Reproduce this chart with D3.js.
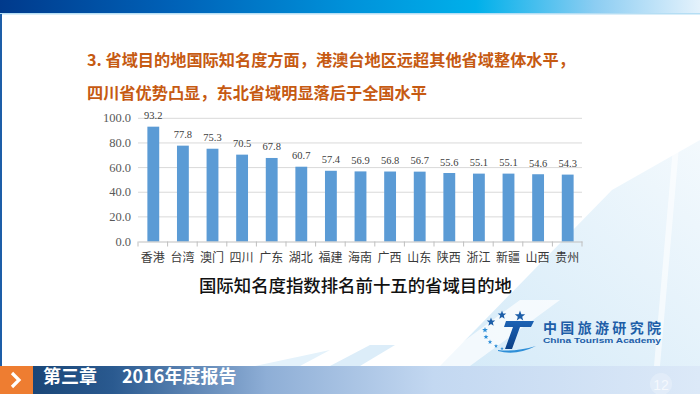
<!DOCTYPE html>
<html><head><meta charset="utf-8">
<script src="https://cdn.jsdelivr.net/npm/d3@7"></script>
<style>html,body{margin:0;padding:0;background:#fff;overflow:hidden}svg{display:block}</style>
</head><body>
<svg id="c" width="700" height="394"></svg>
<script>
const categories = ["香港","台湾","澳门","四川","广东","湖北","福建","海南","广西","山东","陕西","浙江","新疆","山西","贵州"];
const values = [93.2,77.8,75.3,70.5,67.8,60.7,57.4,56.9,56.8,56.7,55.6,55.1,55.1,54.6,54.3];
const yTicks = [0,20,40,60,80,100];
const titleLines = ["3. 省域目的地国际知名度方面，港澳台地区远超其他省域整体水平，","四川省优势凸显，东北省域明显落后于全国水平"];
const caption = "国际知名度指数排名前十五的省域目的地";
const footerText = ["第三章","2016年度报告"];
const pageNo = "12";

const svg = d3.select("#c");
const defs = svg.append("defs");
const cjk = "'Noto Sans CJK SC','Noto Sans',sans-serif";
const serif = "'Liberation Serif','DejaVu Serif',serif";

// background decoration
const bgG = defs.append("linearGradient").attr("id","bgg").attr("x1","0").attr("y1","1").attr("x2","1").attr("y2","0");
bgG.append("stop").attr("offset","0").attr("stop-color","#d4eaf8");
bgG.append("stop").attr("offset","1").attr("stop-color","#f3f9fd");
svg.append("path").attr("d","M612,190 L700,140 L700,366 L440,366 Z").attr("fill","url(#bgg)");
svg.append("path").attr("d","M520,300 L560,300 L470,366 L430,366 Z").attr("fill","#ffffff").attr("opacity",0.7);
svg.append("path").attr("d","M330,366 L360,366 L395,345 L370,345 Z").attr("fill","#dcedf9");
svg.append("path").attr("d","M255,366 L300,366 L330,350 Z").attr("fill","#e4f2fb");
svg.append("path").attr("d","M684,20 L690,20 L660,366 L654,366 Z").attr("fill","#ffffff").attr("opacity",0.6);

// top bar
const tg = defs.append("linearGradient").attr("id","tg");
[["0","#003a8c"],["0.25","#0062b8"],["0.5","#0092da"],["0.68","#00b0ea"],["0.85","#8ccdf2"],["1","#e4f2fc"]].forEach(s=>tg.append("stop").attr("offset",s[0]).attr("stop-color",s[1]));
svg.append("rect").attr("x",0).attr("y",0).attr("width",700).attr("height",13).attr("fill","url(#tg)");
svg.append("rect").attr("x",0).attr("y",13).attr("width",700).attr("height",1.5).attr("fill","#b5def4");
svg.append("rect").attr("x",0).attr("y",14).attr("width",2).attr("height",352).attr("fill","#1d5ea8");

// title
svg.append("g").selectAll("text").data(titleLines).join("text")
  .attr("x",87).attr("y",(d,i)=>66+i*33)
  .attr("font-family",cjk).attr("font-weight","bold").attr("font-size",16.2)
  .attr("fill","#c65a12").text(d=>d);

// chart
const x = d3.scaleBand().domain(categories).range([138,582]).padding(0);
const y = d3.scaleLinear().domain([0,100]).range([241.5,118.3]);
const g = svg.append("g");
g.selectAll("line.grid").data(yTicks.filter(t=>t>0)).join("line")
  .attr("x1",138).attr("x2",582).attr("y1",d=>y(d)).attr("y2",d=>y(d))
  .attr("stroke","#d9d9d9").attr("stroke-width",1);
g.selectAll("text.yl").data(yTicks).join("text")
  .attr("x",131).attr("y",d=>y(d)+4).attr("text-anchor","end")
  .attr("font-family",serif).attr("font-size",12.5).attr("fill","#595959")
  .text(d=>d3.format(".1f")(d));
const bw = x.bandwidth()*0.4;
g.selectAll("rect.bar").data(values).join("rect")
  .attr("x",(d,i)=>x(categories[i])+x.bandwidth()/2-bw/2+0.5)
  .attr("width",bw).attr("y",d=>y(d)).attr("height",d=>y(0)-y(d))
  .attr("fill","#5b9bd5");
g.selectAll("text.vl").data(values).join("text")
  .attr("x",(d,i)=>x(categories[i])+x.bandwidth()/2+0.5).attr("y",d=>y(d)-7.5)
  .attr("text-anchor","middle").attr("font-family",serif).attr("font-size",10.5).attr("fill","#404040")
  .text(d=>d3.format(".1f")(d));
const xAxis = d3.axisBottom(x).tickSize(0).tickFormat(d=>d);
const ax = g.append("g").attr("transform",`translate(0,${y(0)})`).call(xAxis);
ax.select(".domain").attr("stroke","#bfbfbf");
ax.selectAll(".tick text").attr("dy",0).attr("y",20.5).attr("font-family",cjk).attr("font-size",12).attr("fill","#3a3a3a");
const edges = categories.map(c=>x(c)).concat([x.range()[1]]);
ax.selectAll("line.edge").data(edges).join("line")
  .attr("x1",d=>d).attr("x2",d=>d).attr("y1",0).attr("y2",5).attr("stroke","#bfbfbf");

// caption
svg.append("text").attr("x",355.5).attr("y",292).attr("text-anchor","middle")
  .attr("font-family",cjk).attr("font-weight",500).attr("font-size",17.4).attr("fill","#111")
  .text(caption);

// logo
const logo = svg.append("g");
const star = (cx,cy,r)=>{const p=[];for(let k=0;k<10;k++){const a=-Math.PI/2+k*Math.PI/5;const rr=k%2?r*0.42:r;p.push([cx+rr*Math.cos(a),cy+rr*Math.sin(a)]);}return "M"+p.map(q=>q.join(",")).join("L")+"Z";};
[[491,322,4.5],[502,315,4.5],[520,316,5.5]].forEach(s=>logo.append("path").attr("d",star(...s)).attr("fill","#1d5ea8"));
[[485,330,3],[486,337,2.6],[490,342,2.4],[496,346,2.1],[502,348.5,1.8]].forEach(s=>logo.append("path").attr("d",star(...s)).attr("fill","#2f8fd8"));
const tgr = defs.append("linearGradient").attr("id","tl").attr("x1","0").attr("y1","0").attr("x2","0").attr("y2","1");
tgr.append("stop").attr("offset","0").attr("stop-color","#1d63b4");
tgr.append("stop").attr("offset","1").attr("stop-color","#0a3f86");
logo.append("path").attr("d","M506,321 L534,321 L531,327 L520,327 L512,349 L505,349 L513,327 L504,327 Z").attr("fill","url(#tl)");
logo.append("path").attr("d","M498,350 Q515,352 536,346 Q516,356 498,351 Z").attr("fill","#2f8fd8");
logo.append("text").attr("x",543).attr("y",333).attr("font-family",cjk).attr("font-weight","bold")
  .attr("font-size",14).attr("fill","#1d5ea8").attr("textLength",118).attr("lengthAdjust","spacing").text("中国旅游研究院");
logo.append("text").attr("x",543).attr("y",343).attr("font-family","'Liberation Sans',Arial,sans-serif").attr("font-weight","bold")
  .attr("font-size",7.6).attr("fill","#1d5ea8").attr("textLength",118).attr("lengthAdjust","spacingAndGlyphs").text("China Tourism Academy");

// footer
const fg = defs.append("linearGradient").attr("id","fg");
[["0","#1a4677"],["0.12","#2a5a90"],["0.35","#8eaed6"],["0.6","#c3d8f1"],["1","#dce9f8"]].forEach(s=>fg.append("stop").attr("offset",s[0]).attr("stop-color",s[1]));
svg.append("rect").attr("x",33).attr("y",366).attr("width",667).attr("height",28).attr("fill","url(#fg)");
svg.append("rect").attr("x",0).attr("y",366).attr("width",33).attr("height",28).attr("fill","#ee7d31");
svg.append("path").attr("d","M12,373 L19,380 L12,387").attr("fill","none").attr("stroke","#fff").attr("stroke-width",3.2);
svg.append("text").attr("x",43).attr("y",383).attr("font-family",cjk).attr("font-weight","bold").attr("font-size",18).attr("fill","#fff").text(footerText[0]);
svg.append("text").attr("x",122).attr("y",383).attr("font-family",cjk).attr("font-weight","bold").attr("font-size",18).attr("fill","#fff").text(footerText[1]);
svg.append("circle").attr("cx",661).attr("cy",384).attr("r",11).attr("fill","#e8f0fa").attr("opacity",0.6);
svg.append("text").attr("x",661).attr("y",390).attr("text-anchor","middle").attr("font-family","'Liberation Sans',sans-serif").attr("font-size",14).attr("fill","#f4f8fd").text(pageNo);
</script>
</body></html>
